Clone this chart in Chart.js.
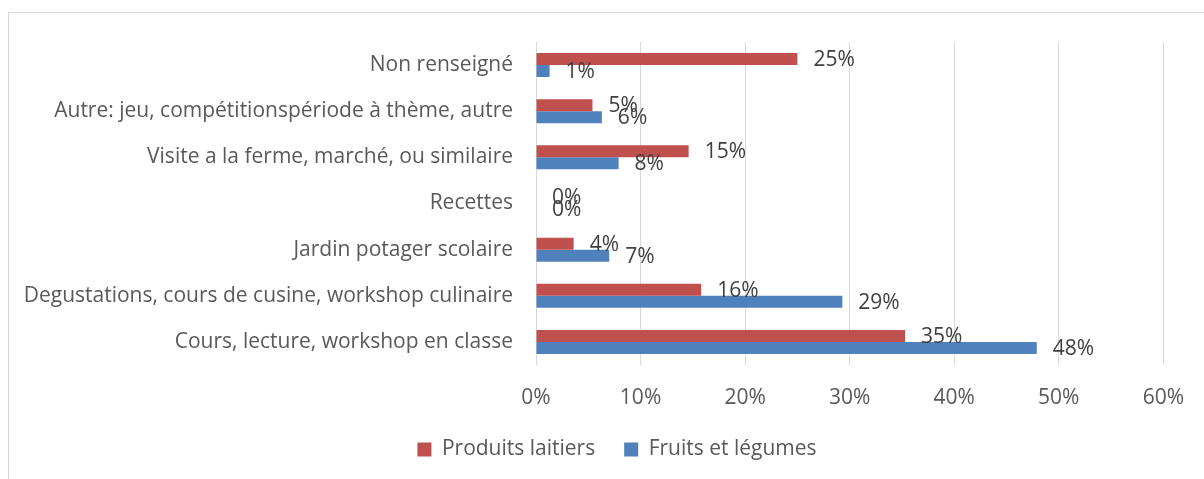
<!DOCTYPE html>
<html>
<head>
<meta charset="utf-8">
<script src="https://cdn.jsdelivr.net/npm/chart.js@4/dist/chart.umd.min.js"></script>
<style>
  html, body { margin: 0; padding: 0; background: #fff; }
  #wrap { width: 1204px; height: 479px; }
</style>
</head>
<body>
<div id="wrap"><canvas id="barChart" width="1204" height="479"></canvas></div>
<script>
// Categories, top to bottom
const categories = [
    'Non renseigné',
    'Autre: jeu, compétitionspériode à thème, autre',
    'Visite a la ferme, marché, ou similaire',
    'Recettes',
    'Jardin potager scolaire',
    'Degustations, cours de cusine, workshop culinaire',
    'Cours, lecture, workshop en classe'
];

// Values in percent
const produitsLaitiers = [25.0, 5.4, 14.6, 0, 3.6, 15.8, 35.3];
const fruitsLegumes = [1.3, 6.3, 7.9, 0, 7.0, 29.3, 47.9];

const seriesNames = ['Produits laitiers', 'Fruits et légumes'];
const xTicks = [0, 10, 20, 30, 40, 50, 60];

const FONT = '"Open Sans", "DejaVu Sans", sans-serif';
const SIZE = 21;

// outer frame of the chart
const framePlugin = {
    id: 'frame',
    beforeDraw(chart) {
        const ctx = chart.ctx;
        ctx.save();
        ctx.fillStyle = '#fff';
        ctx.fillRect(0, 0, chart.width, chart.height);
        ctx.strokeStyle = '#d9d9d9';
        ctx.lineWidth = 1;
        ctx.strokeRect(8.5, 12.5, 1400, 600);
        ctx.restore();
    }
};

// nudge the legend a bit to the right (the original frame is wider than the view)
const legendShift = {
    id: 'legendShift',
    afterLayout(chart) {
        chart.legend.left += 28;
        chart.legend.right += 28;
    }
};

// value labels at the bar ends
const valueLabels = {
    id: 'valueLabels',
    afterDatasetsDraw(chart) {
        const ctx = chart.ctx;
        ctx.save();
        ctx.font = SIZE + 'px ' + FONT;
        ctx.fillStyle = '#404040';
        ctx.textAlign = 'left';
        ctx.textBaseline = 'middle';
        chart.data.datasets.forEach((ds, i) => {
            const meta = chart.getDatasetMeta(i);
            meta.data.forEach((bar, j) => {
                ctx.fillText(Math.round(ds.data[j]) + '%', bar.x + 16, bar.y + 1);
            });
        });
        ctx.restore();
    }
};

function createBarChart() {
    const ctx = document.getElementById('barChart').getContext('2d');

    new Chart(ctx, {
        type: 'bar',
        data: {
            labels: categories,
            datasets: [{
                label: seriesNames[0],
                data: produitsLaitiers,
                backgroundColor: '#C0504D',
                barPercentage: 1,
                categoryPercentage: 0.52
            }, {
                label: seriesNames[1],
                data: fruitsLegumes,
                backgroundColor: '#4F81BD',
                barPercentage: 1,
                categoryPercentage: 0.52
            }]
        },
        options: {
            indexAxis: 'y',
            responsive: false,
            animation: false,
            layout: {
                padding: { left: 12, right: 38, top: 42, bottom: 9 }
            },
            scales: {
                x: {
                    min: 0,
                    max: 60,
                    afterBuildTicks: scale => {
                        scale.ticks = xTicks.map(v => ({ value: v }));
                    },
                    afterFit: scale => { scale.height = 45; },
                    ticks: {
                        callback: v => v + '%',
                        color: '#595959',
                        font: { family: FONT, size: SIZE },
                        padding: 20,
                        maxRotation: 0
                    },
                    grid: {
                        color: '#d9d9d9',
                        drawTicks: false
                    },
                    border: { display: false }
                },
                y: {
                    afterFit: scale => { scale.width = 524; },
                    ticks: {
                        color: '#595959',
                        font: { family: FONT, size: SIZE },
                        padding: 23
                    },
                    grid: { display: false, drawTicks: false },
                    border: { display: false }
                }
            },
            plugins: {
                legend: {
                    position: 'bottom',
                    labels: {
                        color: '#595959',
                        font: { family: FONT, size: SIZE },
                        boxWidth: 14,
                        boxHeight: 14,
                        padding: 29
                    }
                },
                tooltip: { enabled: false }
            }
        },
        plugins: [framePlugin, legendShift, valueLabels]
    });
}

createBarChart();
</script>
</body>
</html>
